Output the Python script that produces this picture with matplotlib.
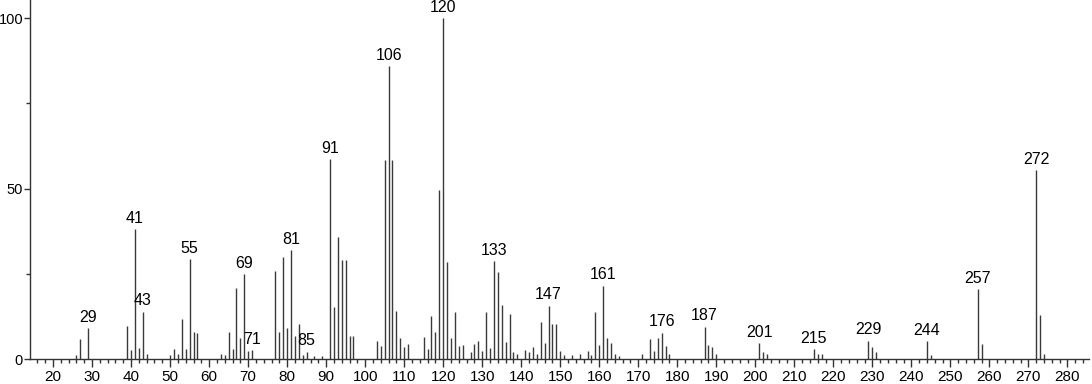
import numpy as np
from matplotlib import pyplot as plt
from matplotlib.ticker import MultipleLocator

plt.rcParams['font.family'] = ['Liberation Sans', 'DejaVu Sans']

mz = [26, 27, 29, 39, 40, 41, 42, 43, 44, 50, 51, 52, 53, 54, 55, 56, 57,
      63, 64, 65, 66, 67, 68, 69, 70, 71, 77, 78, 79, 80, 81, 82, 83, 84, 85,
      87, 89, 91, 92, 93, 94, 95, 96, 97, 103, 104, 105, 106, 107, 108, 109,
      110, 111, 115, 116, 117, 118, 119, 120, 121, 122, 123, 124, 125, 127,
      128, 129, 130, 131, 132, 133, 134, 135, 136, 137, 138, 139, 141, 142,
      143, 144, 145, 146, 147, 148, 149, 150, 151, 153, 155, 157, 158, 159,
      160, 161, 162, 163, 164, 165, 171, 173, 174, 175, 176, 177, 178, 187,
      188, 189, 190, 201, 202, 203, 215, 216, 217, 229, 230, 231, 244, 245,
      257, 258, 272, 273, 274]
intensity = [1.1, 5.8, 9.0, 9.8, 2.6, 38.0, 3.2, 13.9, 1.6, 1.2, 2.8, 1.6,
             11.6, 2.9, 29.2, 7.8, 7.5, 1.4, 1.1, 8.0, 2.9, 20.9, 6.3, 24.9,
             2.4, 2.6, 25.8, 8.0, 29.9, 9.0, 32.0, 6.7, 10.3, 1.2, 2.1, 1.0,
             1.0, 58.6, 15.2, 35.9, 29.0, 29.0, 6.7, 6.7, 5.3, 3.8, 58.4, 85.9,
             58.4, 14.1, 6.1, 3.4, 4.4, 6.4, 3.0, 12.6, 7.9, 49.6, 100.0, 28.4,
             6.1, 13.9, 3.8, 4.1, 2.1, 4.4, 5.4, 2.4, 13.9, 3.1, 28.7, 25.6,
             15.8, 5.1, 13.1, 2.1, 1.4, 2.6, 2.0, 3.4, 1.5, 10.9, 4.7, 15.7,
             10.3, 10.3, 2.4, 1.1, 1.1, 1.4, 2.3, 1.3, 13.9, 4.1, 21.5, 6.2,
             4.6, 1.4, 1.0, 1.4, 5.8, 2.4, 6.2, 7.7, 3.8, 1.4, 9.5, 4.1, 3.4,
             1.6, 4.6, 2.0, 1.5, 2.9, 1.5, 1.5, 5.4, 3.5, 2.0, 5.2, 1.1, 20.4,
             4.4, 55.4, 12.9, 1.4]
labeled = [29, 41, 43, 55, 69, 71, 81, 85, 91, 106, 120, 133, 147, 161, 176,
           187, 201, 215, 229, 244, 257, 272]

fig = plt.figure(figsize=(10.92, 3.84), dpi=100)
ax = fig.add_axes([0.0275, 0.065, 0.97, 0.935])

ax.vlines(mz, 0, intensity, colors='#3a3a3a', linewidth=1.0)

for m, v in zip(mz, intensity):
    if m in labeled:
        ax.text(m, v + 1.0, str(m), ha='center', va='bottom', fontsize=11.5)

ax.set_xlim(14.1, 285.6)
ax.set_ylim(0, 105.3)
ax.set_xticks(np.arange(20, 290, 10))
ax.xaxis.set_minor_locator(MultipleLocator(2))
ax.set_yticks([0, 50, 100])
ax.yaxis.set_minor_locator(MultipleLocator(25))

for side in ['top', 'right']:
    ax.spines[side].set_visible(False)
for side in ['left', 'bottom']:
    ax.spines[side].set_color('#333333')
    ax.spines[side].set_linewidth(1.0)

ax.tick_params(axis='x', which='major', direction='out', length=6, width=1.0,
               color='#333333', labelsize=11, pad=2)
ax.tick_params(axis='y', which='major', direction='out', length=4, width=1.0,
               color='#333333', labelsize=10.5, pad=1)
ax.tick_params(which='minor', direction='out', length=3, width=1.0,
               color='#333333')

fig.savefig('out.png', dpi=100)
